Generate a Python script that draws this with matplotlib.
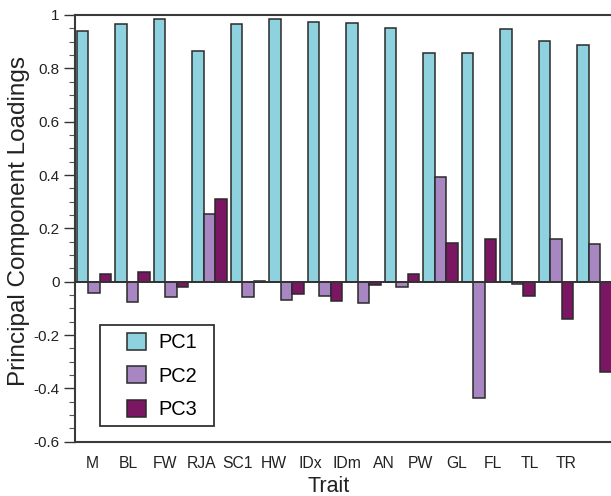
import numpy as np
import matplotlib
matplotlib.use("Agg")
import matplotlib.pyplot as plt
from matplotlib.ticker import MultipleLocator, FuncFormatter
from matplotlib.patches import Rectangle

plt.rcParams['font.family'] = ['Liberation Sans', 'DejaVu Sans']

traits = ["M", "BL", "FW", "RJA", "SC1", "HW", "IDx", "IDm", "AN", "PW", "GL", "FL", "TL", "TR"]
pc1 = [0.941, 0.966, 0.985, 0.865, 0.965, 0.986, 0.975, 0.971, 0.952, 0.856, 0.856, 0.948, 0.901, 0.889]
pc2 = [-0.043, -0.075, -0.056, 0.253, -0.059, -0.068, -0.053, -0.080, -0.019, 0.394, -0.437, -0.008, 0.159, 0.143]
pc3 = [0.030, 0.038, -0.020, 0.311, 0.004, -0.046, -0.072, -0.012, 0.030, 0.144, 0.159, -0.055, -0.140, -0.339]
series_names = ["PC1", "PC2", "PC3"]
colors = ["#8FD2DF", "#A886C1", "#7A1662"]

W, H = 611, 496
fig = plt.figure(figsize=(W / 100, H / 100), dpi=100)
group_px = 38.5
left_px = 74.75
xlim = (-0.5, 13.6)
width_px = (xlim[1] - xlim[0]) * group_px
top_px, bot_px = 15.0, 441.7
ax = fig.add_axes([left_px / W, (H - bot_px) / H, width_px / W, (bot_px - top_px) / H])

x = np.arange(len(traits))
bw = 0.3
handles = []
for k, (vals, c, name) in enumerate(zip([pc1, pc2, pc3], colors, series_names)):
    b = ax.bar(x + (k - 1) * bw, vals, width=bw, color=c, edgecolor="#2a2a2a",
               linewidth=1.1, label=name, zorder=2)
    handles.append(b)

ax.axhline(0, color="#333333", linewidth=1.4, zorder=3)

ax.set_xlim(*xlim)
ax.set_ylim(-0.6, 1.0)
ax.yaxis.set_major_locator(MultipleLocator(0.2))
ax.yaxis.set_minor_locator(MultipleLocator(0.05))
ax.yaxis.set_major_formatter(FuncFormatter(
    lambda v, p: "0" if abs(v) < 1e-9 else f"{v:.1f}".rstrip('0').rstrip('.')))

tick_pos = -0.052 + x * 0.947
ax.set_xticks(tick_pos)
ax.set_xticklabels(traits)
ax.tick_params(axis="x", length=0, pad=10, labelsize=11.3, colors="#222222")
ax.tick_params(axis="y", which="major", length=8, width=1.0, labelsize=11, pad=3,
               colors="#333333", labelcolor="#222222")
ax.tick_params(axis="y", which="minor", length=4, width=0.8, colors="#555555")

for s in ["left", "bottom", "top"]:
    ax.spines[s].set_color("#3a3a3a")
    ax.spines[s].set_linewidth(1.5)
ax.spines["right"].set_visible(False)

ax.set_ylabel("Principal Component Loadings", fontsize=17.5, color="#222222")
ax.yaxis.set_label_coords((19.5 - left_px) / width_px, 1 - (220.5 - top_px) / (bot_px - top_px))
ax.set_xlabel("Trait", fontsize=15.5, color="#222222")
ax.xaxis.set_label_coords((329 - left_px) / width_px, -(486 - bot_px) / (bot_px - top_px))
ax.xaxis.label.set_va("center")
ax.yaxis.label.set_va("center")

leg = ax.legend(handles=handles, loc="upper left",
                bbox_to_anchor=(127.3 / W, 1 - 333.0 / H), bbox_transform=fig.transFigure,
                prop={"family": ["Liberation Sans Narrow", "Liberation Sans"], "size": 14.4},
                frameon=False, handlelength=0.92, handleheight=0.92,
                borderpad=0, labelspacing=0.7, handletextpad=0.63, borderaxespad=0)
frame = Rectangle((100 / W, 1 - 426 / H), 114 / W, 101 / H, transform=fig.transFigure,
                  fill=True, facecolor="white", edgecolor="#333333", linewidth=1.3, zorder=4)
fig.add_artist(frame)
leg.set_zorder(5)
fig.add_artist(leg)

fig.savefig("out.png", dpi=100)
